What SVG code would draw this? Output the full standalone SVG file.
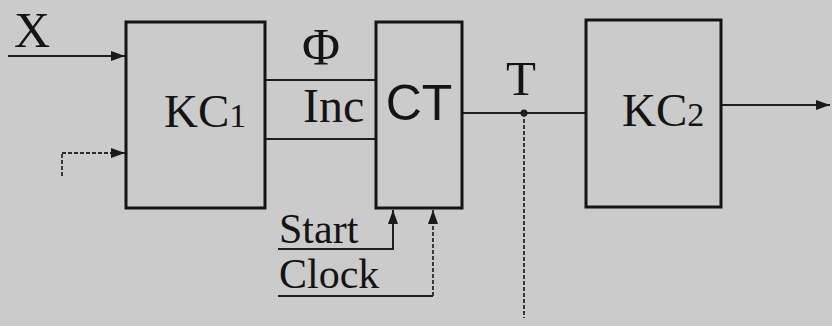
<svg xmlns="http://www.w3.org/2000/svg" width="832" height="326" viewBox="0 0 832 326">
<defs>
<marker id="ah" viewBox="0 0 14 10" refX="14" refY="5" markerWidth="14" markerHeight="10" markerUnits="userSpaceOnUse" orient="auto">
<path d="M0,0 L14,5 L0,10 Z" fill="#1a1a1a"/>
</marker>
<marker id="ahs" viewBox="0 0 10 14" refX="5" refY="0" markerWidth="10" markerHeight="14" markerUnits="userSpaceOnUse" orient="0">
<path d="M5,0 L10,14 L0,14 Z" fill="#1a1a1a"/>
</marker>
</defs>
<style>
.box{fill:none;stroke:#151515;stroke-width:3}
.ln{fill:none;stroke:#1e1e1e;stroke-width:2}
.dl{fill:none;stroke:#2a2a2a;stroke-width:1.8;stroke-dasharray:4 2}
.t{font-family:"Liberation Serif","Times New Roman",serif;fill:#141414}
.s{font-family:"Liberation Sans",Arial,sans-serif;fill:#141414}
</style>
<rect width="832" height="326" fill="#cbcbcb"/>
<g id="connectors">
<line class="ln" x1="8" y1="56" x2="125" y2="56" marker-end="url(#ah)"/>
<path class="dl" d="M62,176 L62,153"/>
<line class="dl" x1="62" y1="153" x2="125" y2="153" marker-end="url(#ah)"/>
<line class="ln" x1="265" y1="80" x2="376" y2="80"/>
<line class="ln" x1="265" y1="139" x2="376" y2="139"/>
<line class="ln" x1="462" y1="113" x2="586" y2="113"/>
<circle cx="524" cy="113" r="3.5" fill="#1a1a1a"/>
<line class="dl" x1="524" y1="113" x2="524" y2="318"/>
<line class="ln" x1="721" y1="105" x2="830" y2="105" marker-end="url(#ah)"/>
<path class="ln" d="M278,249 L393,249 L393,210" marker-end="url(#ahs)"/>
<path class="ln" d="M278,296 L433,296"/>
<path class="dl" d="M433,296 L433,210" marker-end="url(#ahs)"/>
</g>
<g id="ks1">
<rect class="box" x="126" y="22" width="139" height="186"/>
<text class="t" x="164" y="127" font-size="47">KC<tspan font-size="34">1</tspan></text>
</g>
<g id="ct">
<rect class="box" x="376" y="22" width="86" height="186"/>
<text class="s" x="419" y="120" font-size="50" text-anchor="middle">CT</text>
</g>
<g id="ks2">
<rect class="box" x="586" y="20" width="135" height="187"/>
<text class="t" x="622" y="126" font-size="47">KC<tspan font-size="34">2</tspan></text>
</g>
<g id="labels">
<text class="t" x="14" y="47" font-size="50">X</text>
<text class="t" x="321" y="65" font-size="52" text-anchor="middle">Φ</text>
<text class="t" x="303" y="122" font-size="48">Inc</text>
<text class="t" x="521" y="95" font-size="49" text-anchor="middle">T</text>
<text class="t" x="279" y="243" font-size="42">Start</text>
<text class="t" x="279" y="288" font-size="42">Clock</text>
</g>
</svg>
